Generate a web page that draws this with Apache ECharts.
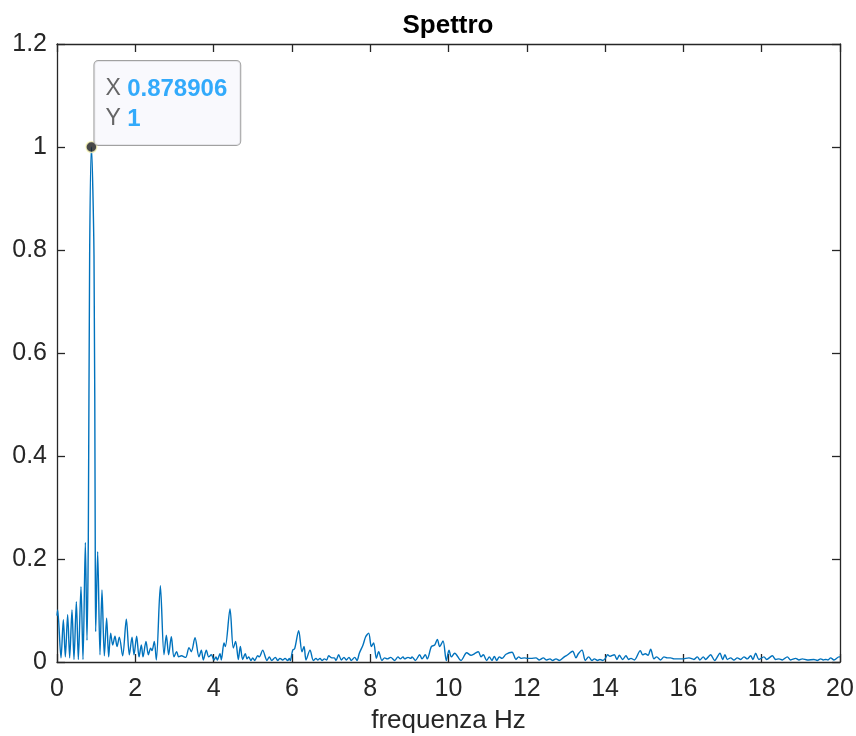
<!DOCTYPE html>
<html>
<head>
<meta charset="utf-8">
<script src="https://cdn.jsdelivr.net/npm/echarts@6/dist/echarts.min.js"></script>
<style>
html,body{margin:0;padding:0;background:#fff;}
#chart{width:856px;height:736px;}
</style>
</head>
<body>
<div id="chart"></div>
<script>
// Frequency (Hz) and normalised amplitude
const freq = [
0,0.017,0.102,0.162,0.213,0.272,0.324,0.383,0.434,0.494,0.545,0.613,0.664,0.724,0.766,0.800,0.834,0.878906,0.945,0.976,0.988,
1.039,1.098,1.149,1.209,1.268,1.320,1.371,1.422,1.481,1.533,1.592,1.677,1.771,1.848,1.916,1.967,
2.035,2.095,2.154,2.197,2.273,2.333,2.393,2.427,2.486,2.537,2.640,2.733,2.793,2.852,2.920,2.988,
3.056,3.108,3.176,3.286,3.372,3.431,3.525,3.627,3.687,3.738,3.814,3.874,3.942,
4.010,4.061,4.095,4.163,4.197,4.266,4.300,4.419,4.503,4.563,4.632,4.683,4.742,4.810,4.853,4.896,4.955,4.998,
5.049,5.126,5.168,5.253,5.364,5.424,5.483,5.577,5.637,5.696,5.764,5.824,5.892,5.934,5.960,
6.020,6.071,6.173,6.258,6.310,6.361,6.463,6.548,6.616,6.658,6.718,6.769,6.829,6.888,6.939,
7.024,7.084,7.126,7.195,7.263,7.331,7.390,7.458,7.518,7.603,7.663,7.722,7.816,7.884,7.961,
8.029,8.088,8.157,8.216,8.301,8.369,8.437,8.523,8.625,8.710,8.770,8.838,8.880,8.966,
9.034,9.068,9.153,9.264,9.323,9.408,9.459,9.562,9.647,9.715,9.775,9.860,9.945,
10.013,10.073,10.158,10.319,10.464,10.575,10.660,10.762,10.830,10.890,10.975,
11.043,11.111,11.171,11.230,11.299,11.367,11.469,11.622,11.724,11.792,11.852,11.937,
12.022,12.107,12.235,12.320,12.422,12.507,12.592,12.661,12.746,12.831,12.958,
13.044,13.171,13.256,13.316,13.410,13.495,13.580,13.665,13.725,13.810,13.869,13.937,13.997,
14.065,14.125,14.235,14.303,14.363,14.448,14.533,14.601,14.661,14.746,14.899,14.959,
15.027,15.096,15.164,15.249,15.317,15.419,15.504,15.589,15.674,15.760,15.972,
16.143,16.270,16.355,16.423,16.508,16.568,16.695,16.798,16.934,
17.002,17.062,17.121,17.206,17.291,17.376,17.462,17.547,17.632,17.717,17.777,17.845,17.930,
18.058,18.126,18.271,18.356,18.441,18.527,18.654,18.739,18.867,18.952,
19.037,19.165,19.335,19.420,19.506,19.574,19.633,19.693,19.761,19.846,19.974,20
];
const amp = [
0.090,0.101,0.008,0.082,0.010,0.092,0.008,0.101,0.005,0.117,0.005,0.146,0.005,0.232,0.042,0.243,0.790,1,0.790,0.243,0.059,
0.214,0.014,0.140,0.012,0.085,0.010,0.056,0.033,0.050,0.030,0.048,0.012,0.083,0.014,0.048,0.014,
0.050,0.010,0.033,0.010,0.040,0.014,0.027,0.022,0.040,0.004,0.148,0.014,0.052,0.014,0.049,0.010,
0.020,0.010,0.012,0.009,0.028,0.020,0.047,0.010,0.023,0.004,0.023,0.010,0.014,
0.004,0.010,0.004,0.016,0.004,0.037,0.030,0.103,0.027,0.040,0.005,0.030,0.005,0.016,0.006,0.010,0.003,0.008,
0.003,0.012,0.010,0.023,0.003,0.010,0.003,0.009,0.003,0.007,0.004,0.007,0.003,0.007,0.003,
0.023,0.026,0.061,0.020,0.030,0.004,0.023,0.003,0.007,0.004,0.007,0.003,0.006,0.004,0.012,
0.008,0.008,0.003,0.014,0.004,0.009,0.004,0.009,0.003,0.009,0.003,0.017,0.033,0.049,0.056,
0.030,0.037,0.007,0.020,0.003,0.008,0.006,0.009,0.003,0.010,0.006,0.010,0.006,0.009,
0.007,0.010,0.003,0.014,0.006,0.014,0.006,0.030,0.033,0.044,0.030,0.041,0.003,
0.023,0.010,0.017,0.003,0.018,0.013,0.016,0.020,0.010,0.014,0.003,
0.010,0.003,0.011,0.003,0.010,0.007,0.015,0.019,0.005,0.010,0.007,0.008,
0.007,0.007,0.008,0.004,0.008,0.004,0.006,0.003,0.006,0.003,0.010,
0.014,0.021,0.008,0.016,0.023,0.003,0.010,0.003,0.006,0.003,0.005,0.003,0.006,
0.014,0.011,0.014,0.005,0.013,0.005,0.012,0.005,0.007,0.004,0.022,0.014,
0.016,0.013,0.025,0.006,0.010,0.004,0.010,0.008,0.008,0.006,0.006,
0.008,0.005,0.010,0.004,0.010,0.005,0.014,0.003,0.017,
0.005,0.014,0.005,0.008,0.004,0.008,0.005,0.010,0.006,0.012,0.005,0.017,0.005,
0.010,0.005,0.012,0.005,0.006,0.004,0.010,0.004,0.007,0.004,
0.006,0.004,0.005,0.003,0.006,0.004,0.005,0.004,0.008,0.004,0.010,0.010
];
const xTicks = {min: 0, max: 20, step: 2};
const yTicks = {min: 0, max: 1.2, step: 0.2};
const peakFreq = 0.878906;
const peakAmp = 1;
const titleText = 'Spettro';
const xLabel = 'frequenza Hz';

const FONT = "'Liberation Sans', Arial, Helvetica, sans-serif";
const AX = '#262626';
const chart = echarts.init(document.getElementById('chart'), null, {renderer: 'canvas'});
const seriesData = freq.map((f, i) => [f, amp[i]]);

const axisCommon = {
  axisLine: {show: true, onZero: false, lineStyle: {color: AX, width: 1.3}},
  axisTick: {show: true, inside: true, length: 8, lineStyle: {color: AX, width: 1.3}},
  splitLine: {show: false}
};

chart.setOption({
  animation: false,
  backgroundColor: '#ffffff',
  title: {
    text: titleText, left: 443, top: 8, textAlign: 'center',
    textStyle: {fontFamily: FONT, fontWeight: 'bold', fontSize: 26, color: '#000'}
  },
  grid: {left: 57, right: 16, top: 44, bottom: 74, containLabel: false, outerBoundsMode: 'none'},
  xAxis: [
    Object.assign({
      type: 'value', position: 'bottom', min: xTicks.min, max: xTicks.max, interval: xTicks.step,
      name: xLabel, nameLocation: 'middle', nameGap: 46,
      nameTextStyle: {fontFamily: FONT, fontSize: 26, color: AX},
      axisLabel: {show: true, margin: 15, fontFamily: FONT, fontSize: 25, color: AX}
    }, axisCommon),
    Object.assign({
      type: 'value', position: 'top', min: xTicks.min, max: xTicks.max, interval: xTicks.step,
      axisLabel: {show: false}
    }, axisCommon)
  ],
  yAxis: [
    Object.assign({
      type: 'value', position: 'left', min: yTicks.min, max: yTicks.max, interval: yTicks.step,
      axisLabel: {show: true, margin: 10, fontFamily: FONT, fontSize: 25, color: AX}
    }, axisCommon),
    Object.assign({
      type: 'value', position: 'right', min: yTicks.min, max: yTicks.max, interval: yTicks.step,
      axisLabel: {show: false}
    }, axisCommon)
  ],
  series: [
    {
      type: 'line', xAxisIndex: 0, yAxisIndex: 0, data: seriesData,
      showSymbol: false, symbol: 'none', smooth: 0.3,
      lineStyle: {color: '#0072BD', width: 1.4}, z: 2
    },
    {
      type: 'scatter', xAxisIndex: 0, yAxisIndex: 0, data: [[peakFreq, peakAmp]],
      symbol: 'circle', symbolSize: 11, z: 5,
      itemStyle: {color: '#1a1a1a', borderColor: '#fffcc0', borderWidth: 1.5},
      label: {
        show: true, position: ['50%', '50%'], align: 'left', verticalAlign: 'bottom', offset: [3, -2],
        formatter: () => '{k|X }{v|' + peakFreq + '}\n{k|Y }{v|' + peakAmp + '}',
        backgroundColor: '#f8f8fd', borderColor: '#8a8a8a', borderWidth: 1, borderRadius: 4,
        padding: [13, 13, 11, 11], lineHeight: 30,
        rich: {
          k: {fontFamily: FONT, fontSize: 23, color: '#404040', lineHeight: 30},
          v: {fontFamily: FONT, fontSize: 24, fontWeight: 'bold', color: '#0096fa', lineHeight: 30}
        }
      }
    }
  ]
});
</script>
</body>
</html>
